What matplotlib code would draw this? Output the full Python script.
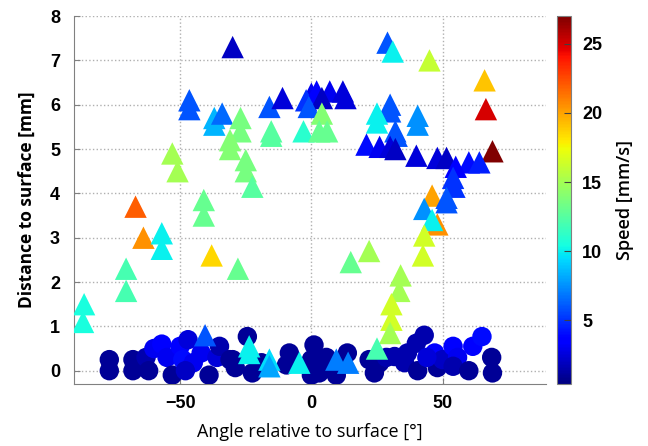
import matplotlib
matplotlib.use("Agg")
import matplotlib.pyplot as plt

# triangles: angle [deg], distance [mm], speed [mm/s]
tri_x = [-86.6, -87, -70.6, -70.6, -67, -64, -57, -57, -53, -51,
         -46.5, -46.5, -41, -41, -38, -28, -30, -37, -37, -34,
         -27, -27, -31, -31, -25, -25, -22.5, -16, -11, -15.3,
         -15.3, 0, -2, 2, 7, 12, 4, 13, -1, 4,
         -3, 3, 6, 29, 31, 45, 66, 66.5, 69, 30,
         30, 25, 25, 40.5, 40.5, 32, 32.5, 21, 26, 30,
         32, 40, 48, 51.5, 60, 64, 55, 54, 54.5, 46,
         51.5, 51.5, 43, 48, 46, 43, 42.5, 34, 33.5, 30.5,
         30.5, 30, 25, 15, 22, -40.5, -23.7, -23.7, -16, -16,
         -4.6, 9.5, 14]
tri_y = [1.5, 1.1, 2.3, 1.8, 3.7, 3.0, 3.1, 2.75, 4.9, 4.5,
         6.1, 5.9, 3.85, 3.5, 2.6, 2.3, 7.3, 5.7, 5.55, 5.8,
         5.7, 5.4, 5.2, 5.0, 4.75, 4.5, 4.15, 5.95, 6.15, 5.4,
         5.3, 6.25, 6.1, 6.3, 6.3, 6.3, 6.15, 6.15, 5.95, 5.8,
         5.4, 5.4, 5.4, 7.4, 7.2, 7.0, 6.55, 5.9, 4.95, 6.0,
         5.85, 5.8, 5.6, 5.75, 5.55, 5.4, 5.3, 5.1, 5.05, 5.05,
         5.0, 4.85, 4.8, 4.8, 4.7, 4.7, 4.6, 4.35, 4.15, 3.95,
         3.9, 3.8, 3.65, 3.3, 3.4, 3.05, 2.6, 2.15, 1.8, 1.5,
         1.15, 0.85, 0.5, 2.45, 2.7, 0.8, 0.55, 0.4, 0.25, 0.1,
         0.18, 0.25, 0.18]
tri_v = [10.5, 10.5, 12, 12, 22, 20.5, 10, 10, 15, 15,
         6, 6, 13, 13, 18.5, 13, 2, 8.5, 8.5, 6.5,
         13.5, 13.5, 14, 14, 13.5, 13.5, 12.5, 6, 2.5, 12.5,
         12.5, 3, 5, 3.5, 3, 2.5, 2, 2.5, 6, 14,
         11, 13, 13, 6, 10, 16, 19, 25, 27, 6,
         6, 10, 10, 7.5, 7.5, 6, 6, 4, 3, 2.5,
         2, 2.5, 2.5, 2, 4, 4.5, 3.5, 5, 5, 20,
         6, 6, 7.5, 20.5, 10, 16.5, 16.5, 15, 15, 16.5,
         16.5, 15, 12, 13, 15, 6, 10, 10, 9.5, 8,
         10, 7, 7]

# circles
cir_x = [-77, -77, -68, -68, -63, -62, -60, -57, -55, -53,
         -50, -47, -49, -45, -48, -42, -39, -36, -35, -31,
         -30, -24.4, -29, -22.5, -19, -8.4, -9.5, 1, 0, 0,
         3, 5.7, 9.5, 13.7, 10.7, 22, 24, 26, 28.6, 43,
         40, 36.6, 31.7, 35.5, 40.5, 47, 48, 50, 54, 55.7,
         54, 60, 61.5, 65, 68.7, 69, 44]
cir_y = [0.25, 0.0, 0.25, 0.0, 0.3, 0.0, 0.5, 0.6, 0.3, -0.1,
         0.55, 0.7, 0.25, 0.18, 0.0, 0.4, -0.1, 0.3, 0.55, 0.25,
         0.25, 0.77, 0.07, -0.05, 0.18, 0.4, 0.13, 0.58, 0.25, -0.1,
         -0.05, 0.3, -0.1, 0.4, 0.13, 0.25, -0.05, 0.18, 0.3, 0.8,
         0.62, 0.4, 0.32, 0.18, 0.0, 0.4, 0.07, 0.25, 0.55, 0.3,
         0.1, 0.0, 0.55, 0.77, 0.3, -0.05, 0.3]
cir_v = [1, 1, 1, 1, 1.5, 1, 3, 3.5, 3, 1,
         3.5, 2.5, 4, 3, 2, 3, 1, 2.5, 1.5, 1,
         1, 1, 1, 1, 1, 1, 1, 1, 1, 1,
         1, 1, 1, 1, 1, 1, 1, 1, 1.5, 1.5,
         1.5, 1.5, 1.5, 1.5, 1, 3.5, 1, 2, 3.5, 3,
         1.5, 1, 3.5, 4, 1, 1, 2.5]

vmin, vmax = 0.4, 27

fig = plt.figure(figsize=(6.48, 4.46), dpi=100)
ax = fig.add_axes([0.114, 0.139, 0.729, 0.825])
cax = fig.add_axes([0.860, 0.139, 0.021, 0.825])

ax.scatter(cir_x, cir_y, c=cir_v, cmap="jet", vmin=vmin, vmax=vmax,
           marker="o", s=195, linewidths=0, zorder=3)
sc = ax.scatter(tri_x, tri_y, c=tri_v, cmap="jet", vmin=vmin, vmax=vmax,
                marker="^", s=260, linewidths=0, zorder=4)

ax.set_xlim(-90.5, 89.5)
ax.set_ylim(-0.3, 8)
ax.set_xticks([-50, 0, 50])
ax.set_yticks(range(0, 9))
ax.grid(True, linestyle=":", color="#b0b0b0", linewidth=1)
ax.set_axisbelow(True)
for s in ["top", "right"]:
    ax.spines[s].set_visible(False)
for s in ["left", "bottom"]:
    ax.spines[s].set_color("#808080")
ax.tick_params(direction="in", length=4, color="#808080")
ax.tick_params(axis="x", pad=8)
ax.tick_params(axis="y", pad=10)
for lab in ax.get_xticklabels() + ax.get_yticklabels():
    lab.set_fontfamily("Liberation Sans")
    lab.set_fontweight("bold")
    lab.set_fontsize(13)

ax.set_xlabel("Angle relative to surface [°]", fontfamily="Open Sans",
              fontsize=13, labelpad=8)
ax.set_ylabel("Distance to surface [mm]", fontfamily="Open Sans",
              fontweight="bold", fontsize=12.5, labelpad=10)

cb = fig.colorbar(sc, cax=cax)
cb.set_ticks([5, 10, 15, 20, 25])
cb.outline.set_edgecolor("#808080")
cb.ax.tick_params(direction="in", length=5, color="#404040", pad=8)
for lab in cb.ax.get_yticklabels():
    lab.set_fontfamily("Liberation Sans")
    lab.set_fontweight("bold")
    lab.set_fontsize(13)
cb.set_label("Speed [mm/s]", fontfamily="Open Sans", fontweight="semibold",
             fontsize=13, labelpad=10)

fig.savefig("out.png", dpi=100)
